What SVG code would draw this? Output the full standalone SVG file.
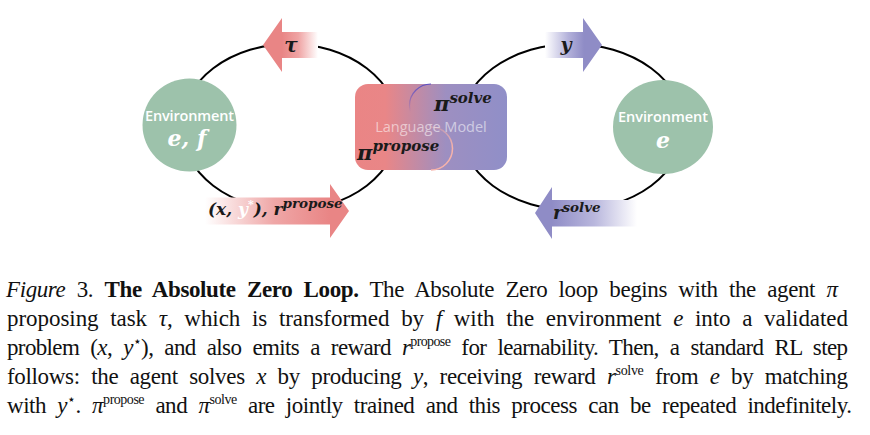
<svg xmlns="http://www.w3.org/2000/svg" width="870" height="435" viewBox="0 0 870 435">
<defs>
<style>
.loop{fill:none;stroke:#000;stroke-width:2}
.env{fill:#9DC2AB}
.envt{font-family:"Open Sans","DejaVu Sans",sans-serif;font-size:14.5px;font-weight:600;fill:#fff;text-anchor:middle}
.envm{font-family:"DejaVu Serif",serif;font-style:italic;font-weight:bold;font-size:22px;fill:#fff;text-anchor:middle}
.m{font-family:"DejaVu Serif",serif;font-style:italic;font-weight:bold;fill:#1a1a1a}
.cap{font-family:"Liberation Serif","Times New Roman",serif;font-size:23px;fill:#111;word-spacing:6px}
.i{font-style:italic}
.b{font-weight:bold}
.sup{font-size:14px}
</style>
<linearGradient id="gTau" gradientUnits="userSpaceOnUse" x1="282" y1="0" x2="318" y2="0">
<stop offset="0" stop-color="#E98585"/><stop offset="0.45" stop-color="#EFA3A3"/><stop offset="1" stop-color="#FFFFFF"/>
</linearGradient>
<linearGradient id="gProp" gradientUnits="userSpaceOnUse" x1="205" y1="0" x2="330" y2="0">
<stop offset="0" stop-color="#FFFFFF"/><stop offset="0.55" stop-color="#EFA7A7"/><stop offset="1" stop-color="#E98585"/>
</linearGradient>
<linearGradient id="gY" gradientUnits="userSpaceOnUse" x1="545" y1="0" x2="584" y2="0">
<stop offset="0" stop-color="#FFFFFF"/><stop offset="0.6" stop-color="#B3B1DA"/><stop offset="1" stop-color="#8F8CC6"/>
</linearGradient>
<linearGradient id="gSolve" gradientUnits="userSpaceOnUse" x1="552" y1="0" x2="637" y2="0">
<stop offset="0" stop-color="#8F8CC6"/><stop offset="0.5" stop-color="#B9B7DD"/><stop offset="1" stop-color="#FFFFFF"/>
</linearGradient>
<linearGradient id="gBox" gradientUnits="userSpaceOnUse" x1="355" y1="0" x2="507" y2="0">
<stop offset="0" stop-color="#EA8585"/><stop offset="0.2" stop-color="#E98687"/><stop offset="0.6" stop-color="#9D8FC1"/><stop offset="1" stop-color="#908FC8"/>
</linearGradient>
<linearGradient id="gArcTop" gradientUnits="userSpaceOnUse" x1="0" y1="84" x2="0" y2="112">
<stop offset="0" stop-color="#5B4FC4" stop-opacity="1"/><stop offset="1" stop-color="#5B4FC4" stop-opacity="0"/>
</linearGradient>
<linearGradient id="gArcBot" gradientUnits="userSpaceOnUse" x1="0" y1="125" x2="0" y2="170">
<stop offset="0" stop-color="#F4B0A8" stop-opacity="0.3"/><stop offset="0.5" stop-color="#F6B2AA" stop-opacity="1"/><stop offset="1" stop-color="#F6B2AA" stop-opacity="1"/>
</linearGradient>
</defs>
<rect width="870" height="435" fill="#fff"/>

<g id="connectors">
<ellipse class="loop" cx="290" cy="127" rx="108.5" ry="83"/>
<ellipse class="loop" cx="572" cy="127" rx="112" ry="83"/>
<g id="arrow-tau">
<path d="M263,45 L282,18 L282,32 L318,32 L318,58 L282,58 L282,72 Z" fill="url(#gTau)"/>
<text class="m" x="291" y="52" font-size="20" text-anchor="middle">τ</text>
</g>
<g id="arrow-propose">
<path d="M205,197.5 L330,197.5 L330,184 L349,211 L330,238 L330,224.5 L205,224.5 Z" fill="url(#gProp)"/>
<text class="m" x="208" y="215" font-size="17">(x, <tspan fill="#FFFFFF">y</tspan><tspan fill="#FFFFFF" font-size="11" dy="-7">*</tspan><tspan dy="7">), r</tspan><tspan font-size="13.5" dy="-7">propose</tspan></text>
</g>
<g id="arrow-y">
<path d="M545,32 L583,32 L583,18 L602,45 L583,72 L583,58 L545,58 Z" fill="url(#gY)"/>
<text class="m" x="566" y="51" font-size="19" text-anchor="middle">y</text>
</g>
<g id="arrow-solve">
<path d="M535,213 L552,187 L552,200 L637,200 L637,226.5 L552,226.5 L552,239 Z" fill="url(#gSolve)"/>
<text class="m" x="553" y="219" font-size="18">r<tspan font-size="13.5" dy="-7">solve</tspan></text>
</g>
</g>

<g id="env-left">
<ellipse class="env" cx="189.5" cy="125" rx="47" ry="46.5"/>
<text class="envt" x="189.5" y="121" textLength="89">Environment</text>
<text class="envm" x="187" y="146">e, f</text>
</g>

<g id="env-right">
<ellipse class="env" cx="663" cy="127" rx="50" ry="47"/>
<text class="envt" x="663" y="122" textLength="90">Environment</text>
<text class="envm" x="663" y="148">e</text>
</g>

<g id="language-model">
<rect x="355" y="84" width="152" height="86" rx="13" fill="url(#gBox)"/>
<path d="M431,84 A21.5,21.5 0 0 0 431,127" fill="none" stroke="url(#gArcTop)" stroke-width="1.2"/>
<path d="M431,127 A21.5,21.5 0 0 1 431,170" fill="none" stroke="url(#gArcBot)" stroke-width="1.5"/>
<text x="431" y="132" text-anchor="middle" font-family="Open Sans, DejaVu Sans, sans-serif" font-size="14.5" fill="#FFFFFF" fill-opacity="0.55">Language Model</text>
<text class="m" x="434" y="111" font-size="21">π<tspan font-size="15" dy="-8">solve</tspan></text>
<text class="m" x="357" y="160" font-size="21">π<tspan font-size="15" dy="-9">propose</tspan></text>
</g>

<g id="caption" class="cap" font-family="'Liberation Serif', 'Times New Roman', serif">
<text x="6" y="297" textLength="832" lengthAdjust="spacing"><tspan class="i">Figure</tspan> 3. <tspan class="b">The Absolute Zero Loop.</tspan>  The Absolute Zero loop begins with the agent <tspan class="i">π</tspan></text>
<text x="7" y="326" textLength="841" lengthAdjust="spacing">proposing task <tspan class="i">τ</tspan>, which is transformed by <tspan class="i">f</tspan> with the environment <tspan class="i">e</tspan> into a validated</text>
<text x="7" y="355" textLength="841" lengthAdjust="spacing">problem (<tspan class="i">x</tspan>, <tspan class="i">y</tspan><tspan class="sup" dy="-9">⋆</tspan><tspan dy="9">), and also emits a reward </tspan><tspan class="i">r</tspan><tspan class="sup" dy="-9">propose</tspan><tspan dy="9"> for learnability. Then, a standard RL step</tspan></text>
<text x="7" y="384" textLength="841" lengthAdjust="spacing">follows: the agent solves <tspan class="i">x</tspan> by producing <tspan class="i">y</tspan>, receiving reward <tspan class="i">r</tspan><tspan class="sup" dy="-9">solve</tspan><tspan dy="9"> from </tspan><tspan class="i">e</tspan> by matching</text>
<text x="7" y="413" textLength="845" lengthAdjust="spacing">with <tspan class="i">y</tspan><tspan class="sup" dy="-9">⋆</tspan><tspan dy="9">. </tspan><tspan class="i">π</tspan><tspan class="sup" dy="-9">propose</tspan><tspan dy="9"> and </tspan><tspan class="i">π</tspan><tspan class="sup" dy="-9">solve</tspan><tspan dy="9"> are jointly trained and this process can be repeated indefinitely.</tspan></text>
</g>
</svg>
